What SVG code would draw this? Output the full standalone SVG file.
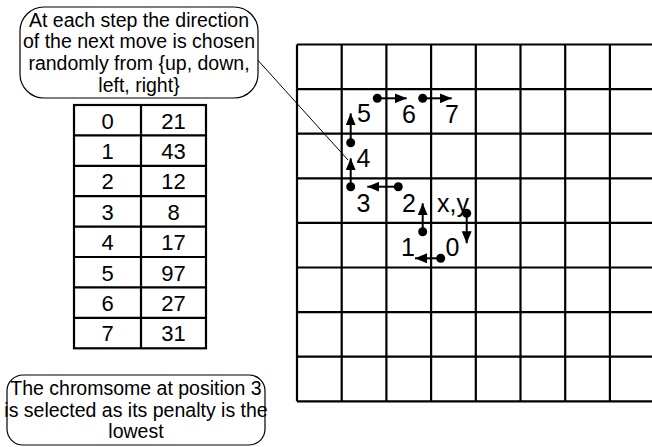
<svg xmlns="http://www.w3.org/2000/svg" width="652" height="447" viewBox="0 0 652 447">
<style>
text{font-family:"Liberation Sans",Arial,sans-serif;fill:#000}
.c{font-size:19.5px;text-anchor:middle}
.t{font-size:22px;text-anchor:middle}
.n{font-size:25px;text-anchor:middle}
.l{font-size:25px}
.box{fill:#fff;stroke:#000;stroke-width:1.2}
.g{stroke:#000;stroke-width:2.2;fill:none}
.a{stroke:#000;stroke-width:2;fill:none;marker-end:url(#ah)}
.thin{stroke:#000;stroke-width:1;fill:none}
</style>
<defs>
<marker id="ah" markerUnits="userSpaceOnUse" markerWidth="12" markerHeight="10" refX="12" refY="5" orient="auto">
<path d="M0,0 L12,5 L0,10 z" fill="#000"/>
</marker>
</defs>
<rect width="652" height="447" fill="#fff"/>
<g id="grid" class="g">
<path d="M297,44.5H652M297,89.1H652M297,133.7H652M297,178.3H652M297,222.9H652M297,267.5H652M297,312.1H652M297,356.7H652M297,401.3H652"/>
<path d="M297,44.5V401.3M341.7,44.5V401.3M386.4,44.5V401.3M431.1,44.5V401.3M475.8,44.5V401.3M520.5,44.5V401.3M565.2,44.5V401.3M609.9,44.5V401.3"/>
</g>
<g id="connectors">
<path class="thin" d="M255,57 L348,160"/>
</g>
<g id="walk">
<line class="a" x1="377.3" y1="98.3" x2="406.7" y2="98.3"/>
<line class="a" x1="422.7" y1="98.3" x2="451.7" y2="98.3"/>
<line class="a" x1="350.7" y1="142.7" x2="350.7" y2="113.3"/>
<line class="a" x1="350.7" y1="186.7" x2="350.7" y2="158.3"/>
<line class="a" x1="398.3" y1="186.7" x2="367.3" y2="186.7"/>
<line class="a" x1="422.7" y1="231.7" x2="422.7" y2="203.3"/>
<line class="a" x1="466.7" y1="213.3" x2="466.7" y2="243.3"/>
<line class="a" x1="440.7" y1="258.3" x2="415" y2="258.3"/>
<g fill="#000">
<circle cx="377.3" cy="98.3" r="4.5"/>
<circle cx="422.7" cy="98.3" r="4.5"/>
<circle cx="350.7" cy="142.7" r="4.5"/>
<circle cx="350.7" cy="186.7" r="4.5"/>
<circle cx="398.3" cy="186.7" r="4.5"/>
<circle cx="422.7" cy="231.7" r="4.5"/>
<circle cx="466.7" cy="213.3" r="4.5"/>
<circle cx="440.7" cy="258.3" r="4.5"/>
</g>
<g class="n">
<text x="409" y="123.3">6</text>
<text x="452" y="123.3">7</text>
<text x="364" y="121.7">5</text>
<text x="363.5" y="167.3">4</text>
<text x="363.5" y="211.7">3</text>
<text x="409" y="211.7">2</text>
<text x="408" y="255.5">1</text>
<text x="452.5" y="255.5">0</text>
</g>
<text class="l" x="437" y="211.7">x,y</text>
</g>
<g id="callout-top">
<rect class="box" x="20" y="7" width="238" height="91" rx="24" ry="24"/>
<g class="c">
<text x="139" y="26.5">At each step the direction</text>
<text x="139" y="48.3">of the next move is chosen</text>
<text x="139" y="70">randomly from {up, down,</text>
<text x="139" y="91.5">left, right}</text>
</g>
</g>
<g id="table">
<rect x="74" y="105" width="132" height="243.3" fill="#fff" stroke="#000" stroke-width="2.2"/>
<path class="g" d="M141,105V348.3M74,135.4H206M74,165.8H206M74,196.2H206M74,226.6H206M74,257H206M74,287.4H206M74,317.8H206"/>
<g class="t">
<text x="107.5" y="128.5">0</text><text x="173.5" y="128.5">21</text>
<text x="107.5" y="158.9">1</text><text x="173.5" y="158.9">43</text>
<text x="107.5" y="189.3">2</text><text x="173.5" y="189.3">12</text>
<text x="107.5" y="219.7">3</text><text x="173.5" y="219.7">8</text>
<text x="107.5" y="250.1">4</text><text x="173.5" y="250.1">17</text>
<text x="107.5" y="280.5">5</text><text x="173.5" y="280.5">97</text>
<text x="107.5" y="310.9">6</text><text x="173.5" y="310.9">27</text>
<text x="107.5" y="341.3">7</text><text x="173.5" y="341.3">31</text>
</g>
</g>
<g id="callout-bottom">
<rect class="box" x="7" y="375" width="258" height="70" rx="16" ry="16"/>
<g class="c">
<text x="136" y="395">The chromsome at position 3</text>
<text x="136" y="416.5">is selected as its penalty is the</text>
<text x="136" y="438">lowest</text>
</g>
</g>
</svg>
